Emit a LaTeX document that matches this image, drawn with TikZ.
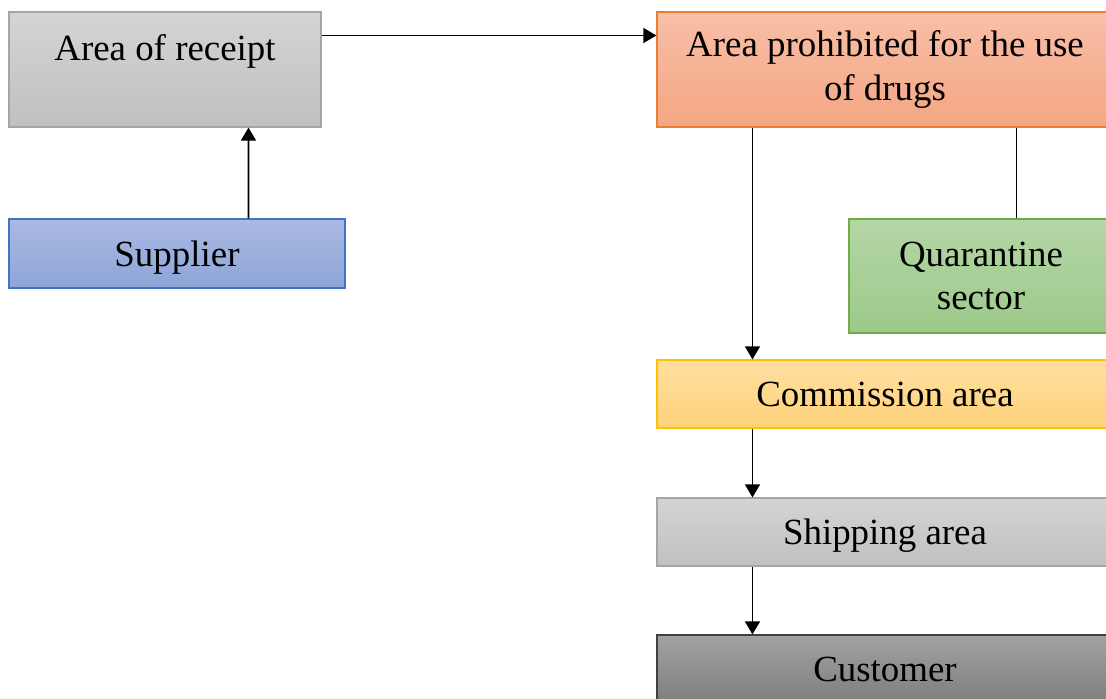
\documentclass[tikz,border=0pt]{standalone}
\usepackage{fontspec}
\setmainfont{Liberation Serif}
\usepackage{xcolor}
\usepackage{tikz}
\usetikzlibrary{arrows.meta}

\definecolor{grayTop}{HTML}{D4D4D4}
\definecolor{grayBot}{HTML}{C0C0C0}
\definecolor{grayLine}{HTML}{A5A5A5}
\definecolor{blueTop}{HTML}{ABB9E2}
\definecolor{blueBot}{HTML}{8DA5D8}
\definecolor{blueLine}{HTML}{4472C4}
\definecolor{orangeTop}{HTML}{F8BFA8}
\definecolor{orangeBot}{HTML}{F4A682}
\definecolor{orangeLine}{HTML}{ED7D31}
\definecolor{greenTop}{HTML}{B5D6A6}
\definecolor{greenBot}{HTML}{9CC98A}
\definecolor{greenLine}{HTML}{70AD47}
\definecolor{yellowTop}{HTML}{FFDFA0}
\definecolor{yellowBot}{HTML}{FED27A}
\definecolor{yellowLine}{HTML}{FFC000}
\definecolor{darkTop}{HTML}{A2A2A2}
\definecolor{darkBot}{HTML}{7D7D7D}
\definecolor{darkLine}{HTML}{404040}

\begin{document}
\begin{tikzpicture}[
    box/.style={rectangle, draw, line width=0.6pt, align=center, inner sep=0pt,
        font=\fontsize{21}{24.5}\selectfont},
    oneline/.style={text height=18.9pt, text depth=4.4pt},
    grayBox/.style={box, draw=grayLine, top color=grayTop, bottom color=grayBot},
    blueBox/.style={box, draw=blueLine, top color=blueTop, bottom color=blueBot},
    orangeBox/.style={box, draw=orangeLine, top color=orangeTop, bottom color=orangeBot},
    greenBox/.style={box, draw=greenLine, top color=greenTop, bottom color=greenBot},
    yellowBox/.style={box, draw=yellowLine, top color=yellowTop, bottom color=yellowBot},
    darkBox/.style={box, draw=darkLine, top color=darkTop, bottom color=darkBot},
    arr/.style={-{Triangle[length=7.5pt,width=8.5pt]}, line width=1.1pt},
    link/.style={line width=1.1pt}
]
    % Page size
    \useasboundingbox (0,0) rectangle (22.12,-13.96);

    % Left column
    \node[grayBox, minimum width=6.24cm, minimum height=2.3cm] (recv) at (3.3,-1.39)
        {Area of receipt\\\mbox{}};
    \node[blueBox, oneline, minimum width=6.72cm, minimum height=1.38cm] (supp) at (3.54,-5.07)
        {Supplier};

    % Right column
    \node[orangeBox, minimum width=9.12cm, minimum height=2.3cm] (prohib) at (17.7,-1.39)
        {Area prohibited for the use\\of drugs};
    \node[greenBox, minimum width=5.28cm, minimum height=2.28cm] (quar) at (19.62,-5.52)
        {Quarantine\\sector};
    \node[yellowBox, oneline, minimum width=9.12cm, minimum height=1.36cm] (comm) at (17.7,-7.88)
        {Commission area};
    \node[grayBox, oneline, minimum width=9.12cm, minimum height=1.36cm] (ship) at (17.7,-10.64)
        {Shipping area};
    \node[darkBox, oneline, minimum width=9.12cm, minimum height=1.36cm] (cust) at (17.7,-13.38)
        {Customer};

    % Connectors
    \draw[arr] ([yshift=-0.48cm]recv.north east) -- ([yshift=-0.48cm]prohib.north west);
    \draw[arr] ([xshift=4.8cm]supp.north west) -- ([xshift=4.8cm]recv.south west);
    \draw[arr] ([xshift=1.92cm]prohib.south west) -- ([xshift=1.92cm]comm.north west);
    \draw[link] ([xshift=3.36cm]quar.north west) -- ([xshift=3.36cm]quar.north west |- prohib.south);
    \draw[arr] ([xshift=1.92cm]comm.south west) -- ([xshift=1.92cm]ship.north west);
    \draw[arr] ([xshift=1.92cm]ship.south west) -- ([xshift=1.92cm]cust.north west);

\end{tikzpicture}
\end{document}
